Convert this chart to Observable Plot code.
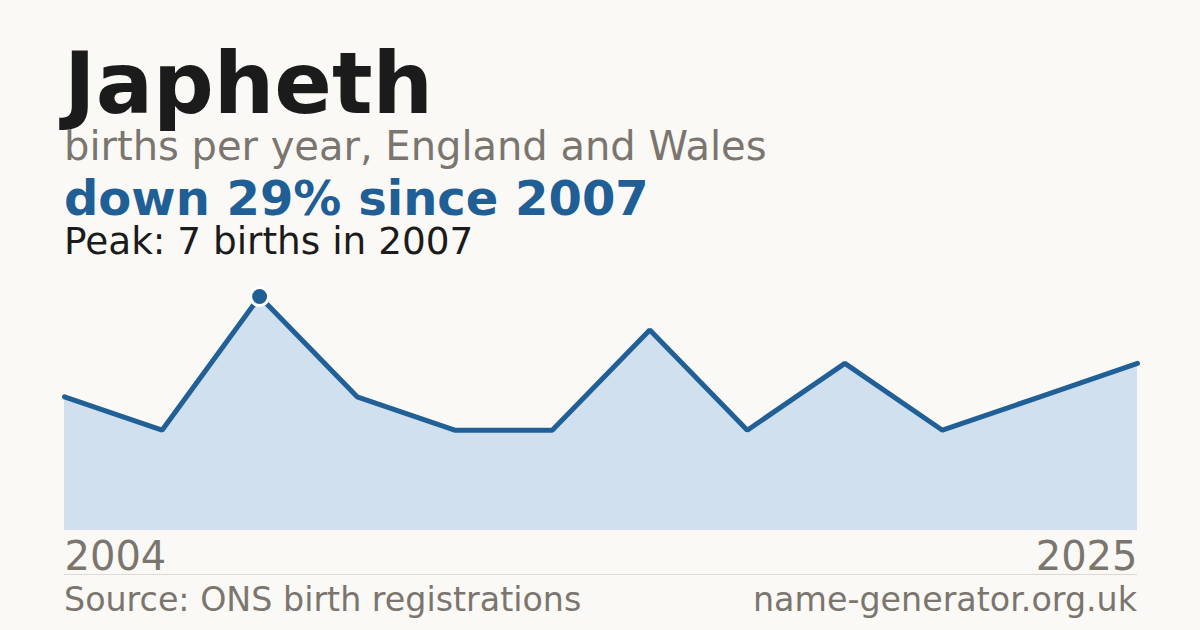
<!DOCTYPE html>
<html>
<head>
<meta charset="utf-8">
<script src="https://cdn.jsdelivr.net/npm/d3@7"></script>
<script src="https://cdn.jsdelivr.net/npm/@observablehq/plot@0.6"></script>
<style>
  html, body { margin: 0; padding: 0; background: #faf9f5; width: 1200px; height: 630px; overflow: hidden; font-family: "DejaVu Sans", sans-serif; }
  .t { position: absolute; left: 64px; white-space: nowrap; line-height: 0.85; }
  #title { top: 48px; font-size: 85px; font-weight: bold; color: #1b1b1b; }
  #sub { top: 129px; font-size: 40px; color: #7a766f; }
  #trend { top: 178px; font-size: 48px; font-weight: bold; color: #1f5f96; }
  #peak { top: 226px; font-size: 37.4px; color: #1b1b1b; }
  #chart { position: absolute; left: 0; top: 270px; }
  #sep { position: absolute; left: 64px; width: 1073px; top: 574px; height: 1px; background: #dcd9d2; }
  .foot { position: absolute; top: 586px; font-size: 33.3px; color: #7a766f; white-space: nowrap; line-height: 0.85; }
</style>
</head>
<body>
<div class="t" id="title">Japheth</div>
<div class="t" id="sub">births per year, England and Wales</div>
<div class="t" id="trend">down 29% since 2007</div>
<div class="t" id="peak">Peak: 7 births in 2007</div>
<div id="chart"></div>
<div id="sep"></div>
<div class="foot" style="left:64px">Source: ONS birth registrations</div>
<div class="foot" style="right:63px">name-generator.org.uk</div>
<script>
const years = [2004, 2006, 2007, 2008, 2010, 2012, 2014, 2016, 2018, 2020, 2022, 2025];
const births = [4, 3, 7, 4, 3, 3, 6, 3, 5, 3, 4, 5];
const peakYear = 2007;
const peakValue = 7;
const yearLabels = ["2004", "2025"];

const data = years.map((y, i) => ({year: y, births: births[i]}));
const peak = [{year: peakYear, births: peakValue}];

const chart = Plot.plot({
  width: 1200,
  height: 310,
  marginLeft: 64,
  marginRight: 63,
  marginTop: 26,
  marginBottom: 50,
  style: {background: "transparent", fontFamily: "DejaVu Sans, sans-serif", overflow: "visible"},
  x: {type: "point", domain: years, range: [64, 1137], padding: 0, round: false, axis: null},
  y: {domain: [0, 7], range: [260, 26], axis: null},
  marks: [
    Plot.areaY(data, {x: "year", y: "births", fill: "#d0e0ef"}),
    Plot.lineY(data, {x: "year", y: "births", stroke: "#215f97", strokeWidth: 5, strokeLinejoin: "miter"}),
    Plot.dot(peak, {x: "year", y: "births", r: 9, fill: "#1f5f96", stroke: "#ffffff", strokeWidth: 3}),
    Plot.text([yearLabels[0]], {x: () => years[0], y: () => 0, text: d => d, textAnchor: "start", dy: 27, fontSize: 40, fill: "#7a766f"}),
    Plot.text([yearLabels[1]], {x: () => years[years.length - 1], y: () => 0, text: d => d, textAnchor: "end", dy: 27, fontSize: 40, fill: "#7a766f"})
  ]
});
document.getElementById("chart").appendChild(chart);
</script>
</body>
</html>
